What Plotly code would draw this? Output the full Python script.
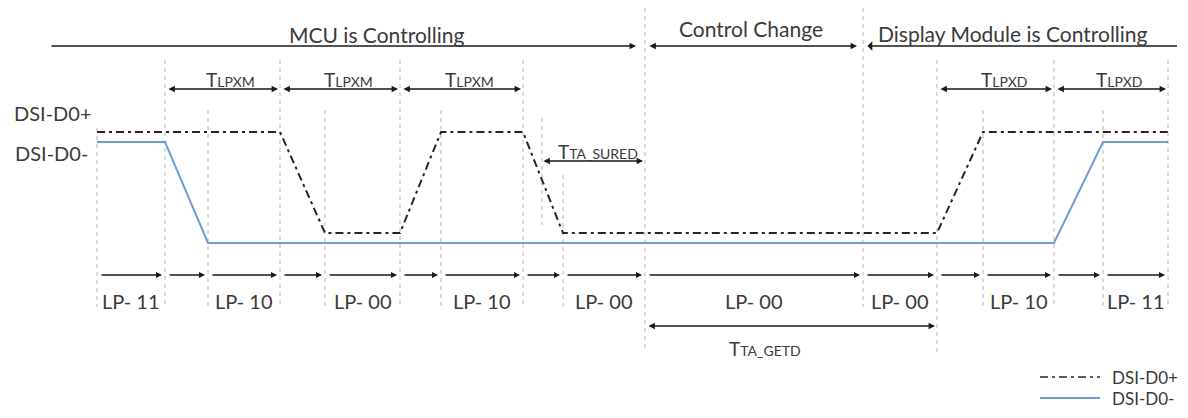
import plotly.graph_objects as go

# ---------------- data ----------------
# time boundaries of the LP states (time axis units)
boundaries = [97, 165, 208, 280, 325, 400, 441, 523, 563, 645, 863, 937, 983, 1054, 1103, 1168]
state_labels = ["LP- 11", "", "LP- 10", "", "LP- 00", "", "LP- 10", "", "LP- 00",
                "LP- 00", "LP- 00", "", "LP- 10", "", "LP- 11"]

# DSI-D0+ waveform (time, logic level)
dp_times = [97, 280, 325, 400, 441, 523, 563, 937, 983, 1168]
dp_levels = [1, 1, 0, 0, 1, 1, 0, 0, 1, 1]
# DSI-D0- waveform
dn_times = [97, 165, 208, 1054, 1103, 1168]
dn_levels = [1, 1, 0, 0, 1, 1]

# timing parameters (start, end, subscript)
tlpx_start = [165, 280, 400, 937, 1054]
tlpx_end = [280, 400, 523, 1054, 1168]
tlpx_sub = ["LPXM", "LPXM", "LPXM", "LPXD", "LPXD"]
tta_sured = (542, 645)
tta_getd = (645, 937)

# control phases
phase_names = ["MCU is Controlling", "Control Change", "Display Module is Controlling"]
phase_start = [50, 645, 863]
phase_end = [645, 863, 1177]

series_names = ["DSI-D0+", "DSI-D0-"]

# ---------------- style ----------------
W, H = 1188, 418
PAD = 8  # default page margin of the html body
FONT = "Lato"
TXT = "#3a3a3a"
DP_COLOR = "#262626"
DN_COLOR = "#6f9dd3"
GRID = "#c4c4c4"
DASHDOT = "8px,4px,3px,4px"

dp_high, dp_low = 132, 233
dn_high, dn_low = 142, 243
grid_top = [128, 60, 110, 60, 110, 60, 110, 60, 175, 5, 5, 60, 110, 60, 110, 60]
grid_bot = [307, 307, 307, 307, 307, 307, 307, 307, 307, 352, 307, 352, 307, 307, 307, 307]

fig = go.Figure()

# grid (dashed vertical lines)
for b, t0, t1 in zip(boundaries, grid_top, grid_bot):
    fig.add_shape(type="line", x0=b, x1=b, y0=max(t0, PAD), y1=t1, xref="x", yref="y",
                  line=dict(color=GRID, width=1.2, dash="4px,4px"), layer="below")
fig.add_shape(type="line", x0=tta_sured[0], x1=tta_sured[0], y0=118, y1=225,
              line=dict(color=GRID, width=1.2, dash="4px,4px"), layer="below")

# waveforms
dp_y = [dp_low - v * (dp_low - dp_high) for v in dp_levels]
dn_y = [dn_low - v * (dn_low - dn_high) for v in dn_levels]
fig.add_trace(go.Scatter(x=dn_times, y=dn_y, mode="lines", showlegend=False,
                         line=dict(color=DN_COLOR, width=2)))
fig.add_trace(go.Scatter(x=dp_times, y=dp_y, mode="lines", showlegend=False,
                         line=dict(color=DP_COLOR, width=2, dash=DASHDOT)))


def arrow(x0, x1, y, both=True, side="end", width=1.6, color="#1a1a1a"):
    fig.add_annotation(x=x1, y=y, ax=x0, ay=y, xref="x", yref="y", axref="x", ayref="y",
                       showarrow=True, arrowhead=2, arrowsize=0.8, arrowwidth=width,
                       arrowcolor=color, arrowside="end+start" if both else side, text="")


def text(x, y, s, size=18, anchor="center"):
    fig.add_annotation(x=x, y=y, xref="x", yref="y", text=s, showarrow=False,
                       xanchor=anchor, yanchor="middle",
                       font=dict(family=FONT, size=size, color=TXT))


def tsym(sub):
    return "T<span style='font-size:14px'>" + sub + "</span>"


# phase line at top
PH_Y = 46
arrow(phase_start[0], phase_end[0] - 9, PH_Y, both=False, side="end")
arrow(phase_start[1] + 3, phase_end[1] - 6, PH_Y, both=True)
arrow(phase_start[2] + 3, phase_end[2], PH_Y, both=False, side="start")
text(376, 34, phase_names[0], 21)
text(751, 28, phase_names[1], 21)
text(1013, 33, phase_names[2], 21)

# TLPX arrows
TL_Y = 89
for s, e, sub in zip(tlpx_start, tlpx_end, tlpx_sub):
    arrow(s + 2, e - 2, TL_Y)
    text((s + e) / 2 + 8, 79, tsym(sub), 19)

# TTA_SURED
arrow(tta_sured[0], tta_sured[1] - 2, 161)
text(598, 151, tsym("TA_SURED"), 19)

# TTA_GETD
arrow(tta_getd[0] + 2, tta_getd[1] - 2, 326)
text(765, 348, tsym("TA_GETD"), 19)

# LP state row
LP_Y = 275
for i in range(len(boundaries) - 1):
    arrow(boundaries[i] + 3, boundaries[i + 1] - 3, LP_Y, both=False, side="end", width=1.5)
    if state_labels[i]:
        text((boundaries[i] + boundaries[i + 1]) / 2, 301, state_labels[i], 20)

# signal labels
text(12, 113, series_names[0], 20, anchor="left")
text(13, 153, series_names[1], 20, anchor="left")

# legend
fig.add_trace(go.Scatter(x=[1040, 1100], y=[377, 377], mode="lines", showlegend=False,
                         line=dict(color=DP_COLOR, width=1.5, dash=DASHDOT)))
fig.add_trace(go.Scatter(x=[1040, 1100], y=[398, 398], mode="lines", showlegend=False,
                         line=dict(color=DN_COLOR, width=2)))
text(1110, 377, series_names[0], 17, anchor="left")
text(1110, 398, series_names[1], 17, anchor="left")

fig.update_layout(
    width=W - 2 * PAD, height=H - 2 * PAD, margin=dict(l=0, r=0, t=0, b=0),
    paper_bgcolor="white", plot_bgcolor="white",
    xaxis=dict(range=[PAD, W - PAD], visible=False, fixedrange=True),
    yaxis=dict(range=[H - PAD, PAD], visible=False, fixedrange=True),
    showlegend=False,
)
fig.write_html("out.html")
